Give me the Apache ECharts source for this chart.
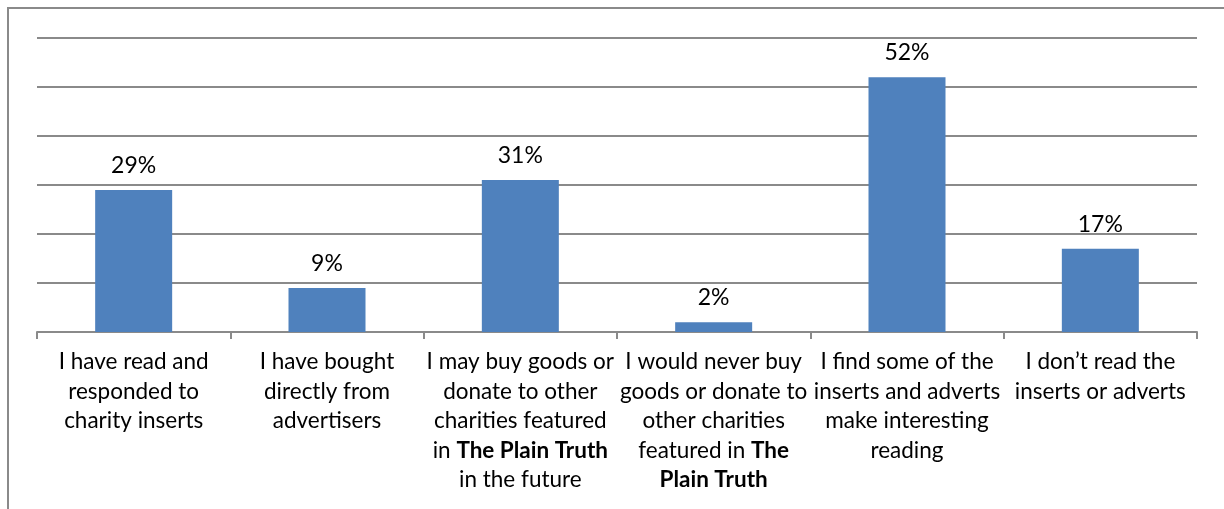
<!DOCTYPE html>
<html><head><meta charset="utf-8">
<script src="https://cdn.jsdelivr.net/npm/echarts@6/dist/echarts.min.js"></script>
<style>html,body{margin:0;padding:0;background:#fff}#c{width:1224px;height:509px}</style>
</head><body><div id="c"></div>
<script>
const categories = [
  "I have read and\nresponded to\ncharity inserts",
  "I have bought\ndirectly from\nadvertisers",
  "I may buy goods or\ndonate to other\ncharities featured\nin {b|The Plain Truth}\nin the future",
  "I would never buy\ngoods or donate to\nother charities\nfeatured in {b|The}\n{b|Plain Truth}",
  "I find some of the\ninserts and adverts\nmake interesting\nreading",
  "I don\u2019t read the\ninserts or adverts"
];
const values = [29, 9, 31, 2, 52, 17];
const yTicks = [0, 10, 20, 30, 40, 50, 60];

const FONT = "Lato";
const FS = 22.5;
const chart = echarts.init(document.getElementById('c'), null, {renderer: 'canvas'});
chart.setOption({
  animation: false,
  backgroundColor: '#fff',
  graphic: [{
    type: 'rect', silent: true, z: -1,
    shape: {x: 8, y: 8, width: 1240, height: 540},
    style: {fill: 'none', stroke: '#8a8a8a', lineWidth: 2}
  }],
  grid: {left: 37, right: 27, top: 38, bottom: 177, containLabel: false},
  xAxis: {
    type: 'category',
    data: categories,
    boundaryGap: true,
    axisLine: {lineStyle: {color: '#8a8a8a', width: 2}},
    axisTick: {show: true, length: 7, lineStyle: {color: '#8a8a8a', width: 2}},
    axisLabel: {
      interval: 0,
      margin: 15,
      color: '#000',
      fontFamily: FONT,
      fontSize: FS,
      lineHeight: 29.5,
      align: 'center',
      rich: {
        b: {fontWeight: 'bold', fontFamily: FONT, fontSize: FS, lineHeight: 29.5, color: '#000'}
      }
    }
  },
  yAxis: {
    type: 'value',
    min: yTicks[0], max: yTicks[yTicks.length - 1], interval: 10,
    axisLabel: {show: false},
    axisLine: {show: false},
    axisTick: {show: false},
    splitLine: {lineStyle: {color: '#8a8a8a', width: 2}}
  },
  series: [{
    type: 'bar',
    data: values,
    barWidth: 77,
    itemStyle: {color: '#4F81BD'},
    label: {
      show: true, position: 'top', distance: 13,
      formatter: p => p.value + '%',
      color: '#000', fontFamily: FONT, fontSize: 23
    }
  }]
});
</script></body></html>
